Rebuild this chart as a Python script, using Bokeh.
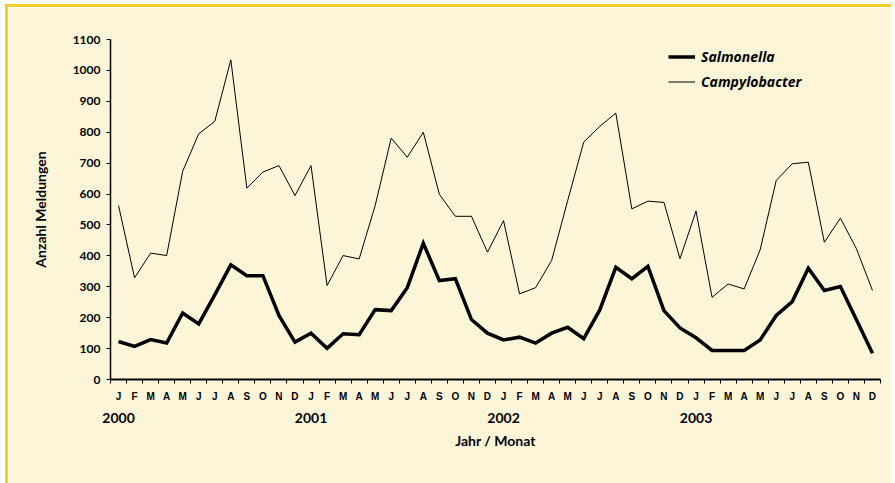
from bokeh.plotting import figure
from bokeh.models import Range1d, FixedTicker, LinearAxis, Legend, LegendItem
from bokeh.embed import file_html
from bokeh.resources import INLINE

months = ["J", "F", "M", "A", "M", "J", "J", "A", "S", "O", "N", "D"]
years = ["2000", "2001", "2002", "2003"]

salmonella = [123, 107, 129, 118, 215, 180, 274, 371, 336, 336, 207, 121,
              150, 101, 148, 145, 226, 223, 297, 441, 320, 326, 194, 150,
              128, 137, 118, 150, 169, 132, 225, 363, 326, 366, 223, 167,
              135, 94, 94, 94, 128, 207, 252, 360, 288, 301, 193, 85]

campylobacter = [563, 329, 409, 401, 674, 795, 835, 1034, 619, 671, 692, 595,
                 692, 304, 401, 390, 563, 781, 719, 800, 599, 528, 528, 412,
                 514, 277, 297, 385, 579, 768, 819, 862, 552, 577, 573, 391,
                 545, 266, 309, 293, 420, 644, 698, 703, 444, 522, 423, 288]

y_ticks = list(range(0, 1101, 100))

n = len(salmonella)
xs = [i + 0.5 for i in range(n)]

BG = "#FCF5D8"
YEL = "#F0D02C"

p = figure(width=886, height=479, output_backend="svg", toolbar_location=None,
           x_range=Range1d(0, n), y_range=Range1d(0, 1100),
           min_border_left=102, min_border_top=32, min_border_right=14, min_border_bottom=107,
           background_fill_color=BG, border_fill_color=BG, x_axis_type=None)
p.margin = (4, 0, 0, 5)
p.styles = {"border-top": f"3px solid {YEL}", "border-left": f"3px solid {YEL}"}
p.outline_line_color = None
p.xgrid.visible = False
p.ygrid.visible = False

r_s = p.line(xs, salmonella, line_color="black", line_width=3.5, line_join="miter")
r_c = p.line(xs, campylobacter, line_color="black", line_width=1)

# y axis
ya = p.yaxis[0]
ya.ticker = FixedTicker(ticks=y_ticks)
ya.minor_tick_line_color = None
ya.axis_line_color = "black"
ya.major_tick_line_color = "black"
ya.major_tick_in = 0
ya.major_tick_out = 4
ya.axis_line_width = 1.5
ya.major_tick_line_width = 1
ya.major_label_text_color = "black"
ya.major_label_text_font = "Lato"
ya.major_label_text_font_style = "bold"
ya.major_label_text_font_size = "12px"
ya.major_label_standoff = 6
ya.axis_label = "Anzahl Meldungen"
ya.axis_label_text_color = "black"
ya.axis_label_text_font = "Lato"
ya.axis_label_text_font_style = "bold"
ya.axis_label_text_font_size = "14px"
ya.axis_label_standoff = 21

# month axis
month_labels = {x: months[i % 12] for i, x in enumerate(xs)}
xa = LinearAxis(ticker=FixedTicker(ticks=xs, minor_ticks=list(range(n + 1))),
                major_label_overrides=month_labels)
xa.axis_line_color = "black"
xa.minor_tick_line_color = "black"
xa.major_tick_out = 0
xa.major_tick_in = 0
xa.minor_tick_out = 4
xa.minor_tick_in = 0
xa.axis_line_width = 2
xa.major_label_standoff = 7
xa.major_label_text_color = "black"
xa.major_label_text_font = "Liberation Sans"
xa.major_label_text_font_style = "bold"
xa.major_label_text_font_size = "10px"
p.add_layout(xa, "below")

# year axis
jan = [xs[i] for i in range(0, n, 12)]
year_labels = {x: years[i] for i, x in enumerate(jan)}
ya2 = LinearAxis(ticker=FixedTicker(ticks=jan, minor_ticks=[]),
                 major_label_overrides=year_labels)
ya2.axis_line_color = None
ya2.major_tick_line_color = None
ya2.minor_tick_line_color = None
ya2.major_tick_out = 0
ya2.major_tick_in = 0
ya2.major_label_standoff = 8
ya2.major_label_text_color = "black"
ya2.major_label_text_font = "Lato"
ya2.major_label_text_font_style = "bold"
ya2.major_label_text_font_size = "14px"
ya2.axis_label = "Jahr / Monat"
ya2.axis_label_text_color = "black"
ya2.axis_label_text_font = "Lato"
ya2.axis_label_text_font_style = "bold"
ya2.axis_label_text_font_size = "14px"
ya2.axis_label_standoff = 6
p.add_layout(ya2, "below")

legend = Legend(items=[LegendItem(label="Salmonella", renderers=[r_s]),
                       LegendItem(label="Campylobacter", renderers=[r_c])],
                location=(558, 286), background_fill_alpha=0, border_line_color=None,
                padding=0, margin=0, spacing=2, glyph_width=27, glyph_height=23,
                label_height=23, label_standoff=6,
                label_text_color="black",
                label_text_font="Open Sans", label_text_font_style="bold italic",
                label_text_font_size="14px")
p.add_layout(legend)

open("out.html", "w").write(file_html(p, INLINE))
